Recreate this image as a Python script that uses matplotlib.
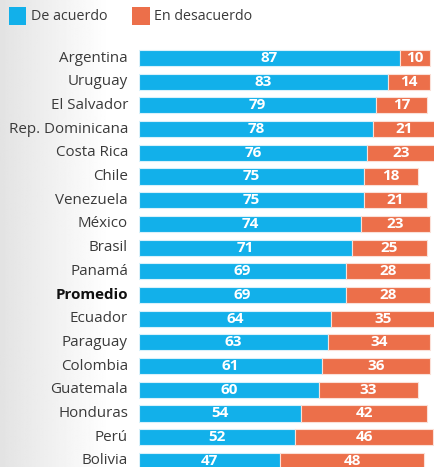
import numpy as np
import matplotlib
matplotlib.use("Agg")
from matplotlib import pyplot as plt
from matplotlib.patches import Rectangle

paises = ["Argentina", "Uruguay", "El Salvador", "Rep. Dominicana", "Costa Rica",
          "Chile", "Venezuela", "México", "Brasil", "Panamá", "Promedio",
          "Ecuador", "Paraguay", "Colombia", "Guatemala", "Honduras", "Perú", "Bolivia"]
de_acuerdo = [87, 83, 79, 78, 76, 75, 75, 74, 71, 69, 69, 64, 63, 61, 60, 54, 52, 47]
en_desacuerdo = [10, 14, 17, 21, 23, 18, 21, 23, 25, 28, 28, 35, 34, 36, 33, 42, 46, 48]

AZUL = "#12b0ea"
NARANJA = "#ec6f4a"
W, H = 434, 467

plt.rcParams['font.family'] = ['Open Sans', 'DejaVu Sans']
fig = plt.figure(figsize=(W / 100, H / 100), dpi=100)

# fondo con degradado gris a la izquierda
bg = fig.add_axes([0, 0, 1, 1], zorder=-1)
grad = np.ones((2, 400))
x = np.linspace(0, 1, 400)
grad[:] = np.clip(0.89 + 0.11 * x / 0.25, 0, 1)
bg.imshow(grad, cmap="gray", vmin=0, vmax=1, aspect="auto", extent=[0, 1, 0, 1])
bg.set_xlim(0, 1)
bg.set_ylim(0, 1)
bg.axis("off")

# leyenda
fig.patches.append(Rectangle((9 / W, 1 - 25 / H), 17 / W, 18 / H, transform=fig.transFigure,
                             facecolor=AZUL, edgecolor="none"))
fig.text(31 / W, 1 - 16 / H, "De acuerdo", fontsize=10.3, color="#3a3a3a", va="center")
fig.patches.append(Rectangle((132 / W, 1 - 25 / H), 18 / W, 18 / H, transform=fig.transFigure,
                             facecolor=NARANJA, edgecolor="none"))
fig.text(154 / W, 1 - 16 / H, "En desacuerdo", fontsize=10.3, color="#3a3a3a", va="center")

ax = fig.add_axes([139 / W, 0, 295 / W, 427 / H])
ax.patch.set_alpha(0)
y = np.arange(len(paises))
ax.barh(y, de_acuerdo, height=0.68, color=AZUL, edgecolor="#d8f1fb", linewidth=0.8)
ax.barh(y, en_desacuerdo, left=de_acuerdo, height=0.68, color=NARANJA,
        edgecolor="#fbe0d8", linewidth=0.8)

for i in range(len(paises)):
    ax.text(de_acuerdo[i] / 2, i, str(de_acuerdo[i]), ha="center", va="center",
            color="white", fontsize=11, fontweight="bold")
    ax.text(de_acuerdo[i] + en_desacuerdo[i] / 2, i, str(en_desacuerdo[i]), ha="center",
            va="center", color="white", fontsize=11, fontweight="bold")
    es_prom = paises[i] == "Promedio"
    ax.text(-3.7, i, paises[i], ha="right", va="center", fontsize=10.9,
            color="#111111" if es_prom else "#3a3a3a",
            fontweight="bold" if es_prom else "normal")

ax.set_xlim(0, 295 / 3)
ax.set_ylim(17.26, -0.76)
ax.axis("off")

fig.savefig("out.png", dpi=100)
